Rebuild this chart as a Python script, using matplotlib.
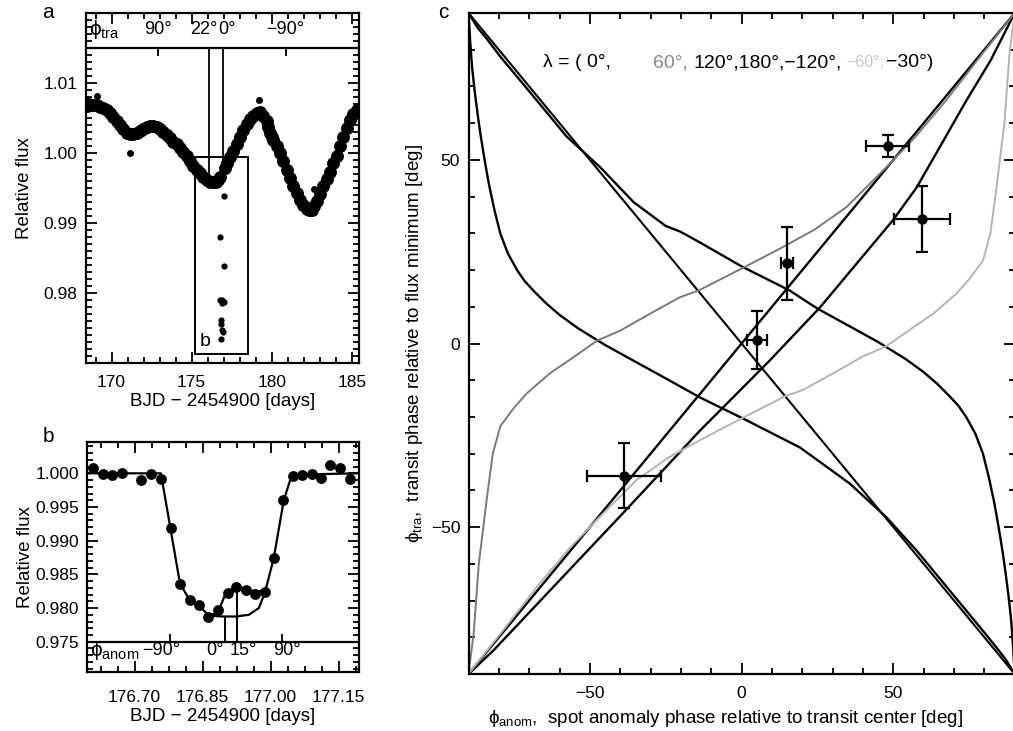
import matplotlib
matplotlib.use('Agg')
import matplotlib.pyplot as plt
from matplotlib.patches import Rectangle
from matplotlib.ticker import MultipleLocator, FixedLocator

plt.rcParams['font.family'] = ['Liberation Sans', 'DejaVu Sans']
plt.rcParams['mathtext.fontset'] = 'custom'
plt.rcParams['mathtext.rm'] = 'Liberation Sans'
plt.rcParams['mathtext.it'] = 'Liberation Sans'
plt.rcParams['mathtext.sf'] = 'Liberation Sans'
plt.rcParams['mathtext.fallback'] = 'stixsans'
plt.rcParams['axes.unicode_minus'] = True

# ---------------- panel a : light curve ----------------
lc_day = [168.48, 168.67, 168.86, 169.06, 169.27, 169.48, 169.69, 169.90, 170.10, 170.31,
          170.52, 170.73, 170.94, 171.15, 171.35, 171.56, 171.77, 171.98, 172.19, 172.40,
          172.60, 172.81, 173.02, 173.23, 173.44, 173.65, 173.85, 174.06, 174.27, 174.48,
          174.69, 174.90, 175.10, 175.31, 175.52, 175.73, 175.94, 176.15, 176.35, 176.50,
          176.66, 176.74, 177.08, 177.19, 177.40, 177.60, 177.81, 178.02, 178.23, 178.44,
          178.65, 178.85, 179.06, 179.27, 179.48, 179.69, 179.79, 179.89, 180.00, 180.10,
          180.31, 180.52, 180.73, 180.94, 181.15, 181.35, 181.56, 181.77, 181.98, 182.19,
          182.35, 182.50, 182.66, 182.81, 183.02, 183.22, 183.43, 183.64, 183.85, 184.06,
          184.27, 184.47, 184.68, 184.89, 185.10, 185.31, 185.45]
lc_flux = [1.0067, 1.0068, 1.0069, 1.0068, 1.0066, 1.0064, 1.0061, 1.0057, 1.0052, 1.0046,
           1.0040, 1.0034, 1.0029, 1.0027, 1.0027, 1.0029, 1.0031, 1.0034, 1.0037, 1.0039,
           1.0039, 1.0037, 1.0034, 1.0030, 1.0026, 1.0021, 1.0016, 1.0012, 1.0007, 1.0001,
           0.9995, 0.9988, 0.9981, 0.9976, 0.9971, 0.9966, 0.9961, 0.9959, 0.9958, 0.9959,
           0.9961, 0.9965, 0.9978, 0.9985, 0.9994, 1.0002, 1.0012, 1.0023, 1.0032, 1.0041,
           1.0048, 1.0053, 1.0057, 1.0058, 1.0053, 1.0045, 1.0037, 1.0028, 1.0023, 1.0019,
           1.0010, 0.99995, 0.9988, 0.9976, 0.9964, 0.9952, 0.9942, 0.9933, 0.9926, 0.9920,
           0.9918, 0.9918, 0.9924, 0.9931, 0.9941, 0.9952, 0.9962, 0.9973, 0.9985, 0.9996,
           1.0010, 1.0023, 1.0035, 1.0047, 1.0055, 1.0061, 1.0062]
lc_extra_day = [168.50, 169.10, 171.15, 179.20, 182.62]
lc_extra_flux = [1.0076, 1.0081, 0.99995, 1.0076, 0.9948]
tr_day = [176.78, 176.80, 176.82, 176.84, 176.86, 176.885, 176.905, 176.924, 176.945,
          176.965, 176.988, 177.008, 177.028]
tr_flux = [0.9880, 0.9790, 0.9761, 0.9755, 0.9734, 0.9747, 0.9785, 0.9790, 0.9787,
           0.9744, 0.9787, 0.9838, 0.9938]
tra_tick_day = [172.90, 180.89]
tra_label_day = [172.90, 175.77, 177.21, 180.83]
tra_labels = ['90°', '22°', '0°', '−90°']
tra_line_day = [176.11, 176.93]
tra_line_bottom = [0.9966, 0.9985]
box_b = (175.2, 178.5, 0.9712, 0.9994)

# ---------------- panel b : transit ----------------
b_day = [176.608, 176.630, 176.650, 176.673, 176.715, 176.737, 176.758, 176.780, 176.800,
         176.822, 176.843, 176.863, 176.885, 176.905, 176.924, 176.945, 176.965, 176.988,
         177.008, 177.028, 177.049, 177.070, 177.091, 177.112, 177.132, 177.154, 177.176]
b_flux = [1.00084, 0.99985, 0.99980, 1.00005, 0.99906, 0.99995, 0.99916, 0.99190, 0.98358,
          0.98121, 0.98047, 0.97874, 0.97973, 0.98229, 0.98309, 0.98270, 0.98210, 0.98244,
          0.98738, 0.99601, 0.99966, 0.99970, 0.99995, 0.99936, 1.00118, 1.00084, 0.99922]
model_day = [176.595, 176.758, 176.800, 176.821, 176.843, 176.863, 176.883, 176.901,
             176.923, 176.945, 176.967, 176.989, 177.007, 177.029, 177.047, 177.195]
model_flux = [1.0000, 1.0000, 0.9837, 0.9812, 0.9802, 0.9790, 0.9792, 0.9822,
              0.9832, 0.9829, 0.9824, 0.9827, 0.9874, 0.9960, 0.9998, 1.0000]
nospot_day = [176.863, 176.879, 176.894, 176.923, 176.952, 176.974, 176.990]
nospot_flux = [0.9790, 0.9788, 0.97875, 0.97874, 0.9790, 0.9800, 0.9827]
anom_line_day = [176.900, 176.926]
anom_line_top = [0.97874, 0.9831]
anom_tick_day = [176.777, 177.025]
anom_label_day = [176.759, 176.878, 176.939, 177.036]
anom_labels = ['−90°', '0°', '15°', '90°']

# ---------------- panel c : phase relation ----------------
lam0_x = [-90, -45, 0, 45, 90]
lam0_y = [-90, -45, 0, 45, 90]
lam180_x = [-90, -45, 0, 45, 90]
lam180_y = [90, 45, 0, -45, -90]
lam120_x = [-90, -89.7, -89.4, -88.8, -88.0, -87.0, -86.1, -84.8, -83.3, -81.5, -79.5,
            -77, -74, -71.5, -68.6, -64.5, -60, -54, -45, -35.8, -25, -13.7, 0.4,
            19.2, 35.6, 47.8, 57.7, 68.5, 79.4, 84, 87, 90]
lam120_y = [90, 86, 81.7, 75, 69, 62.5, 57.2, 50.5, 43.5, 36.5, 29.9,
            24.5, 20, 17, 14.4, 11, 7.8, 4.2, -0.4, -4.6, -9.5, -14.7, -20.4,
            -28.3, -38.1, -47.4, -56.4, -67.2, -78.1, -82.8, -86, -90]
lamm120_x = [-90, -87, -84, -79.4, -68.5, -57.7, -46.6, -35.6, -25, -20.3, -13.7, 0,
             15.9, 25, 35.8, 45, 54, 60, 64.5, 68.6, 71.5, 74, 77, 79.5, 81.5, 83.3,
             84.8, 86.1, 87.0, 88.0, 88.8, 89.4, 89.7, 90]
lamm120_y = [90, 86, 83, 78, 67.2, 56.4, 48, 38.5, 32, 30.5, 27.5, 21,
             14.4, 9.5, 4.6, 0.4, -4.2, -7.8, -11, -14.4, -17, -20, -24.5, -29.9, -36.5,
             -43.5, -50.5, -57.2, -62.5, -69, -75, -81.7, -86, -90]
lamm30_x = [-90, -81.8, -60, -40, -13.7, -3.8, 9.3, 25.8, 49.8, 57.7, 74.1, 82, 90]
lamm30_y = [-90, -83.6, -64.5, -47, -23.7, -15.5, -4.6, 9.8, 33.5, 42.5, 66.2, 77, 90]
lam60_x = [-90, -88.3, -86.6, -83.9, -82, -79.5, -75, -70.7, -63, -57.6, -47.6, -40,
           -30, -20.3, -14, 0, 13, 24, 34.5, 47.7, 57, 67.4, 78, 90]
lam60_y = [-90, -79, -60, -41.8, -30, -22.5, -17.5, -13.5, -8, -5, 0.8, 3.5,
           8.2, 12.6, 14.5, 20.4, 26, 31, 37.1, 48, 56, 66.2, 77.5, 90]
lamm60_x = [-90, -78, -67.4, -57, -47.7, -34.5, -24, -13, 0, 14, 20.3, 30,
            40, 47.6, 57.6, 63, 70.7, 75, 79.5, 82, 83.9, 86.6, 88.3, 90]
lamm60_y = [-90, -77.5, -66.2, -56, -48, -37.1, -31, -26, -20.4, -14.5, -12.6, -8.2,
            -3.5, -0.8, 5, 8, 13.5, 17.5, 22.5, 30, 41.8, 60, 79, 90]
pt_x = [48.2, 59.5, 15.1, 5.1, -38.7]
pt_y = [53.8, 33.9, 21.8, 1.0, -36.0]
pt_xerr = [7.1, 9.3, 2.0, 3.2, 12.3]
pt_yerr = [3.0, 9.0, 10.0, 7.9, 8.8]
lam_text = ['λ = ( 0°,', '60°,', '120°,180°,−120°,', '−60°,', '−30°)']
lam_text_color = ['black', '#8a8a8a', 'black', '#c8c8c8', 'black']
lam_text_size = [14, 14, 14, 11.5, 14]
lam_text_x = [-65.4, -29.2, -16.0, 34.6, 47.6]

W, H = 1013, 731
fig = plt.figure(figsize=(W / 100, H / 100), dpi=100)


def rect(l, t, r, b):
    return [l / W, 1 - b / H, (r - l) / W, (b - t) / H]


def style(ax, xpad):
    for s in ax.spines.values():
        s.set_linewidth(1.6)
    ax.tick_params(which='both', direction='in', top=True, right=True,
                   width=1.3, labelsize=12.5, pad=6)
    ax.tick_params(axis='x', which='both', pad=xpad)
    ax.tick_params(which='major', length=8)
    ax.tick_params(which='minor', length=4)


LW = 1.6

# ---- panel a
axa = fig.add_axes(rect(86, 13, 359, 362.7))
style(axa, 9)
axa.plot(lc_day, lc_flux, 'o', color='black', ms=9.3, mew=0)
axa.plot(lc_extra_day, lc_extra_flux, 'o', color='black', ms=5.0, mew=0)
axa.plot(tr_day, tr_flux, 'o', color='black', ms=4.5, mew=0)
axa.set_xlim(168.4, 185.45)
axa.set_ylim(0.970, 1.020)
axa.xaxis.set_major_locator(FixedLocator([170, 175, 180, 185]))
axa.xaxis.set_minor_locator(MultipleLocator(1))
axa.yaxis.set_major_locator(FixedLocator([0.98, 0.99, 1.00, 1.01]))
axa.yaxis.set_minor_locator(MultipleLocator(0.001))
axa.set_yticklabels(['0.98', '0.99', '1.00', '1.01'])
axa.axhline(1.015, color='black', lw=LW)
axa.vlines(tra_tick_day, 1.015 - 0.0011, 1.015, color='black', lw=1.3)
axa.vlines(tra_line_day, tra_line_bottom, 1.015, color='black', lw=1.3)
axa.add_patch(Rectangle((box_b[0], box_b[2]), box_b[1] - box_b[0], box_b[3] - box_b[2],
                        fill=False, lw=1.4, ec='black'))
axa.text(175.83, 0.9730, 'b', fontsize=14, ha='center', va='center')
axa.text(168.6, 1.0176, r'$\phi_{\mathrm{tra}}$', fontsize=15, ha='left', va='center')
for d, s in zip(tra_label_day, tra_labels):
    axa.text(d, 1.0176, s, fontsize=13, ha='center', va='center')
axa.set_xlabel('BJD − 2454900 [days]', fontsize=13.5)
axa.set_ylabel('Relative flux', fontsize=13.5)
axa.yaxis.set_label_coords(-0.195, 0.5)
axa.xaxis.set_label_coords(0.5, -0.087)
fig.text(48 / W, 1 - 12 / H, 'a', fontsize=15, ha='center', va='center')

# ---- panel b
axb = fig.add_axes(rect(87, 442, 359, 671.7))
style(axb, 13)
axb.plot(model_day, model_flux, '-', color='black', lw=LW)
axb.plot(nospot_day, nospot_flux, '-', color='black', lw=LW)
axb.plot(b_day, b_flux, 'o', color='black', ms=7.8, mew=0)
axb.set_xlim(176.595, 177.195)
axb.set_ylim(0.97055, 1.00465)
axb.xaxis.set_major_locator(FixedLocator([176.70, 176.85, 177.00, 177.15]))
axb.set_xticklabels(['176.70', '176.85', '177.00', '177.15'])
axb.xaxis.set_minor_locator(MultipleLocator(0.0375))
axb.yaxis.set_major_locator(FixedLocator([0.975, 0.980, 0.985, 0.990, 0.995, 1.000]))
axb.set_yticklabels(['0.975', '0.980', '0.985', '0.990', '0.995', '1.000'])
axb.yaxis.set_minor_locator(MultipleLocator(0.001))
axb.axhline(0.975, color='black', lw=LW)
axb.vlines(anom_line_day, 0.975, anom_line_top, color='black', lw=1.4)
axb.vlines(anom_tick_day, 0.975, 0.975 + 0.0012, color='black', lw=1.3)
axb.text(176.602, 0.9737, r'$\phi_{\mathrm{anom}}$', fontsize=15, ha='left', va='center')
for d, s in zip(anom_label_day, anom_labels):
    axb.text(d, 0.9737, s, fontsize=13, ha='center', va='center')
axb.set_xlabel('BJD − 2454900 [days]', fontsize=13.5)
axb.set_ylabel('Relative flux', fontsize=13.5)
axb.yaxis.set_label_coords(-0.195, 0.5)
axb.xaxis.set_label_coords(0.5, -0.158)
fig.text(48 / W, 1 - 437 / H, 'b', fontsize=15, ha='center', va='center')

# ---- panel c
axc = fig.add_axes(rect(468.5, 13, 1014.7, 674))
style(axc, 9)
curves = [
    (lam0_x, lam0_y, 'black', 1.7),
    (lam180_x, lam180_y, 'black', 1.5),
    (lam120_x, lam120_y, 'black', 1.7),
    (lamm120_x, lamm120_y, 'black', 1.7),
    (lamm30_x, lamm30_y, 'black', 1.7),
    (lam60_x, lam60_y, '#7a7a7a', 1.4),
    (lamm60_x, lamm60_y, '#b4b4b4', 1.4),
]
for xs, ys, col, lw in curves:
    axc.plot(xs, ys, '-', color=col, lw=lw)
axc.errorbar(pt_x, pt_y, xerr=pt_xerr, yerr=pt_yerr, fmt='o', color='black',
             ms=6.5, capsize=4.5, elinewidth=1.6, capthick=1.6)
axc.set_xlim(-90, 90)
axc.set_ylim(-90, 90)
axc.xaxis.set_major_locator(MultipleLocator(50))
axc.xaxis.set_minor_locator(MultipleLocator(10))
axc.yaxis.set_major_locator(MultipleLocator(50))
axc.yaxis.set_minor_locator(MultipleLocator(10))
for x0, s, c, fs in zip(lam_text_x, lam_text, lam_text_color, lam_text_size):
    axc.text(x0, 76.5, s, color=c, fontsize=fs, ha='left', va='center')
axc.set_xlabel(r'$\phi_{\mathrm{anom}}$,  spot anomaly phase relative to transit center [deg]',
               fontsize=13.5)
axc.set_ylabel(r'$\phi_{\mathrm{tra}}$,  transit phase relative to flux minimum [deg]',
               fontsize=13.5)
axc.yaxis.set_label_coords(-0.080, 0.5)
axc.xaxis.set_label_coords(0.47, -0.051)
fig.text(443 / W, 1 - 12 / H, 'c', fontsize=15, ha='center', va='center')

fig.savefig('out.png', dpi=100)
